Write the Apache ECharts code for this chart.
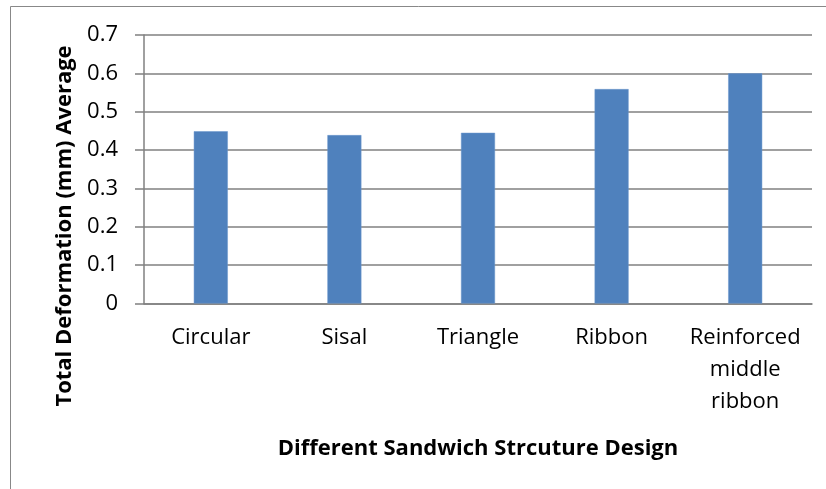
<!DOCTYPE html>
<html>
<head>
<meta charset="utf-8">
<script src="https://cdn.jsdelivr.net/npm/echarts@6/dist/echarts.min.js"></script>
<style>html,body{margin:0;padding:0;background:#fff}#c{width:826px;height:489px}</style>
</head>
<body>
<div id="c"></div>
<script>
const categories = ['Circular', 'Sisal', 'Triangle', 'Ribbon', 'Reinforced\nmiddle\nribbon'];
const values = [0.449, 0.439, 0.445, 0.559, 0.600];
const yTicks = { min: 0, max: 0.7, interval: 0.1 };
const xTitle = 'Different Sandwich Strcuture Design';
const yTitle = 'Total Deformation (mm) Average';

const chart = echarts.init(document.getElementById('c'), null, { renderer: 'canvas' });
const FONT = '"Open Sans", sans-serif';
chart.setOption({
  animation: false,
  backgroundColor: '#fff',
  grid: { left: 144, right: 14, top: 35, bottom: 185.5, containLabel: false },
  graphic: [
    { type: 'rect', shape: { x: 10.5, y: 6.5, width: 900, height: 600 }, style: { fill: 'none', stroke: '#888', lineWidth: 1 }, silent: true },
    { type: 'text', x: 65, y: 226, rotation: Math.PI / 2, style: { text: yTitle, font: 'bold 22px "Open Sans", sans-serif', fill: '#000', align: 'center', verticalAlign: 'middle' } }
  ],
  xAxis: {
    type: 'category',
    data: categories,
    name: xTitle,
    nameLocation: 'middle',
    nameGap: 134,
    nameTextStyle: { fontFamily: FONT, fontWeight: 'bold', fontSize: 22, color: '#000' },
    axisLine: { lineStyle: { color: '#808080', width: 1.5 } },
    axisTick: { show: false },
    axisLabel: { fontFamily: FONT, fontSize: 22, color: '#000', margin: 18, lineHeight: 32, interval: 0 }
  },
  yAxis: {
    type: 'value',
    min: yTicks.min, max: yTicks.max, interval: yTicks.interval,
    axisLine: { show: true, lineStyle: { color: '#808080', width: 1.5 } },
    axisTick: { show: true, length: 9, lineStyle: { color: '#808080', width: 1.5 } },
    splitLine: { lineStyle: { color: '#808080', width: 1.5 } },
    axisLabel: { fontFamily: FONT, fontSize: 22, color: '#000', margin: 26, formatter: v => String(Math.round(v * 10) / 10) }
  },
  series: [{
    type: 'bar',
    data: values,
    barWidth: 34,
    itemStyle: { color: '#4F81BD', borderColor: '#6a96cc', borderWidth: 0.5 }
  }]
});
</script>
</body>
</html>
